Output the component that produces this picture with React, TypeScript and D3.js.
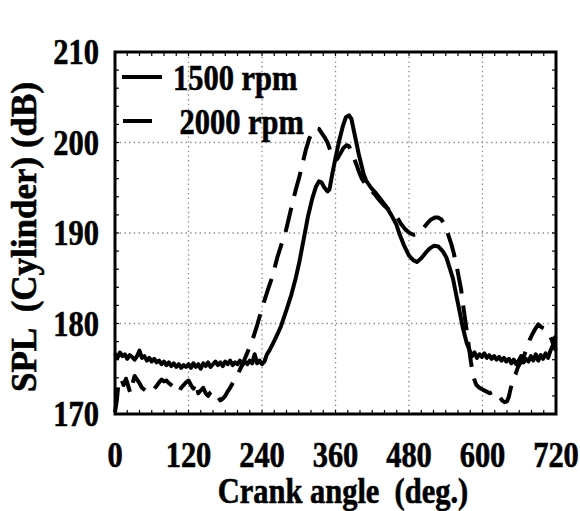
import React from "react";
import * as d3 from "d3";

// ---- data (crank angle in deg, SPL in dB) ----
const solidAngles = [
  0, 4, 8, 12, 16, 20, 24, 28, 32, 36, 40, 44, 48, 52, 56, 60, 64, 68, 72, 76, 80, 84, 88, 92, 96, 100,
  104, 108, 112, 116, 120, 124, 128, 132, 136, 140, 144, 148, 152, 156, 160, 164, 168, 172, 176, 180,
  184, 188, 192, 196, 200, 204, 208, 212, 216, 220, 224, 228, 232, 236, 240, 244, 248, 252,
  258, 263, 271, 280, 288, 295, 301, 308, 315, 322, 328, 333, 337, 342, 347, 350, 355, 360, 366, 372,
  377, 382, 386, 390, 394, 398, 402, 406, 410, 418, 426, 434, 443, 451, 459, 465, 472, 480, 487, 493,
  500, 507, 514, 521, 528, 535, 541, 547, 552, 557, 563, 568, 574, 579,
  583, 587, 591, 595, 599, 603, 607, 611, 615, 619, 623, 627, 631, 635, 639, 643, 647, 651, 655, 659,
  663, 667, 671, 675, 679, 683, 687, 691, 695, 699, 703, 707, 711, 715, 718, 720,
];
const solidValues = [
  176.7, 176.2, 176.8, 176.4, 176.6, 176.1, 176.5, 176.3, 176.0, 176.4, 177.0, 176.2, 176.4, 175.9, 176.2,
  175.8, 176.1, 175.7, 175.9, 175.5, 175.8, 175.4, 175.7, 175.3, 175.6, 175.2, 175.5, 175.1, 175.4, 175.2,
  175.5, 175.1, 175.6, 175.2, 175.5, 175.0, 175.6, 175.3, 175.7, 175.2, 175.5, 175.8, 175.4, 175.7, 175.3,
  175.8, 175.5, 175.9, 175.4, 175.7, 175.5, 175.9, 175.4, 175.8, 175.5, 175.9, 175.6, 176.6, 175.6, 175.9,
  175.5, 175.8, 176.6, 177.0,
  177.8, 178.5, 179.7, 181.5, 183.2, 185.0, 186.8, 189.3, 191.8, 193.8, 195.1, 195.7, 195.6, 195.0, 194.6,
  194.8, 196.6, 198.3, 200.2, 201.8, 202.8, 203.0, 202.6, 201.3, 200.0, 198.7, 197.6, 196.5, 195.8, 195.0,
  194.4, 193.7, 192.9, 192.0, 191.0, 189.8, 188.6, 187.5, 187.0, 186.8, 187.2, 187.8, 188.3, 188.6, 188.5,
  188.0, 187.3, 186.0, 184.9, 183.2, 181.2, 179.5, 177.9, 177.0,
  176.4, 176.8, 176.2, 176.6, 176.3, 176.7, 176.2, 176.5, 176.1, 176.4, 176.0, 176.3, 175.9, 176.2, 175.8,
  176.1, 175.6, 176.0, 175.5, 175.9, 176.4, 175.7, 176.1, 175.8, 176.4, 175.9, 176.6, 175.9, 176.5, 176.1,
  176.7, 176.2, 177.0, 177.6, 178.4, 178.6,
];

const dashedAngles = [
  0, 3, 6, 10, 14, 18, 22, 25, 28, 32, 36, 40, 44, 48, 52, 56, 60, 64, 68, 72, 76, 80, 84, 88, 92, 96,
  100, 104, 108, 112, 116, 120, 124, 128, 132, 136, 140, 144, 148, 152, 156, 160, 164, 168, 172, 176,
  180, 184, 188, 192, 196, 200, 206, 212, 218, 225, 232, 241, 249, 257, 265, 272, 277, 282, 290, 296,
  301, 307, 312, 317, 322, 328, 333, 337, 342, 347, 351, 355, 359, 363, 368, 373, 378, 382, 386, 390,
  394, 398, 403, 410, 418, 425, 432, 440, 447, 454, 460, 467, 474, 481, 488, 495, 502, 509, 516, 522,
  528, 533, 538, 543, 549, 553, 557, 561, 565, 569, 573, 577, 581, 585, 590, 595, 600, 606, 612, 618,
  624, 628, 632, 636, 640, 643, 646, 650, 654, 658, 663, 667, 672, 677, 682, 687, 691, 696, 700, 705,
  709, 713, 717, 720,
];
const dashedValues = [
  170.2, 171.5, 173.6, 173.9, 173.2, 173.9, 173.0, 172.3, 173.2, 174.2, 173.8, 173.4, 172.9, 172.7, 172.5,
  172.3, 172.5, 172.8, 173.1, 173.5, 173.8, 173.6, 173.7, 173.4, 173.2, 173.0, 172.6, 172.4, 172.9, 173.2,
  173.5, 173.7, 173.2, 172.8, 173.5, 172.3, 172.6, 172.9, 172.3, 172.0, 172.4, 172.6, 172.3, 171.9, 171.5,
  171.7, 172.0, 172.5, 172.9, 173.4, 173.9, 174.3, 175.2, 176.1, 177.1, 178.3, 179.8, 181.9, 183.6, 185.2,
  187.3, 188.8, 189.7, 191.1, 193.4, 195.0, 196.2, 197.9, 199.3, 200.4, 201.2, 201.6, 201.5, 201.1, 200.6,
  200.0, 199.2, 198.4, 198.0, 198.2, 198.8, 199.4, 199.7, 199.6, 199.0, 198.3, 197.6, 196.8, 196.0, 195.3,
  194.7, 194.2, 193.6, 193.0, 192.6, 192.2, 191.8, 191.0, 190.4, 190.0, 189.8, 189.9, 190.4, 191.0, 191.5,
  191.7, 191.7, 191.5, 190.9, 190.0, 188.8, 187.8, 186.6, 185.2, 183.8, 181.7, 179.8, 177.8, 175.8, 174.1,
  173.2, 172.9, 172.7, 172.5, 172.3, 172.5, 172.4, 171.9, 171.5, 171.3, 171.4, 171.9, 172.8, 173.9, 174.4,
  175.2, 175.8, 176.3, 177.2, 178.2, 178.9, 179.5, 179.9, 179.6, 179.5, 179.3, 178.8, 178.2, 177.4, 177.0,
];

const xTicks = [0, 120, 240, 360, 480, 600, 720];
const yTicks = [170, 180, 190, 200, 210];
const seriesNames = ["1500 rpm", " 2000 rpm"];
const xTitle = "Crank angle  (deg.)";
const yTitle = "SPL  (Cylinder) (dB)";

const W = 580;
const H = 511;
const L = 115, R = 556, T = 52, B = 414;
const FONT = "'Liberation Serif', 'Times New Roman', serif";
const FS = 35;
const SX = 0.87;

export default function App() {
  const x = d3.scaleLinear().domain([0, 720]).range([L, R]);
  const y = d3.scaleLinear().domain([170, 210]).range([B, T]);

  const line = d3
    .line<[number, number]>()
    .x((d) => x(d[0]))
    .y((d) => y(d[1]))
    .curve(d3.curveLinear);

  const solid = solidAngles.map((a, i) => [a, solidValues[i]] as [number, number]);
  const dashed = dashedAngles.map((a, i) => [a, dashedValues[i]] as [number, number]);

  const minorX = d3.range(0, 721, 20);
  const minorY = d3.range(170, 211, 2);
  const tl = 4;

  const textStyle: React.CSSProperties = {
    fontFamily: FONT,
    fontWeight: "bold",
    fontSize: FS,
    whiteSpace: "pre",
    stroke: "#000",
    strokeWidth: 0.6,
  };

  return (
    <svg
      width={W}
      height={H}
      style={{ position: "absolute", left: 0, top: 0, background: "#fff" }}
    >
      <rect x={0} y={0} width={W} height={H} fill="#fff" />
      {/* grid */}
      <g stroke="#8a8a8a" strokeWidth={1.3} strokeDasharray="1.4,3.3">
        {xTicks.slice(1, -1).map((t) => (
          <line key={"gx" + t} x1={x(t)} x2={x(t)} y1={T} y2={B} />
        ))}
        {yTicks.slice(1, -1).map((t) => (
          <line key={"gy" + t} x1={L} x2={R} y1={y(t)} y2={y(t)} />
        ))}
      </g>
      {/* minor ticks */}
      <g stroke="#000" strokeWidth={1.2}>
        {minorX.map((t) => (
          <g key={"mx" + t}>
            <line x1={x(t)} x2={x(t)} y1={B} y2={B - tl} />
            <line x1={x(t)} x2={x(t)} y1={T} y2={T + tl} />
          </g>
        ))}
        {minorY.map((t) => (
          <g key={"my" + t}>
            <line x1={L} x2={L + tl} y1={y(t)} y2={y(t)} />
            <line x1={R} x2={R - tl} y1={y(t)} y2={y(t)} />
          </g>
        ))}
      </g>
      {/* curves */}
      <path d={line(solid) || ""} fill="none" stroke="#000" strokeWidth={4} strokeLinejoin="round" />
      <path
        d={line(dashed) || ""}
        fill="none"
        stroke="#000"
        strokeWidth={4}
        strokeDasharray="25,12"
        strokeLinejoin="round"
      />
      {/* frame */}
      <rect x={L} y={T} width={R - L} height={B - T} fill="none" stroke="#000" strokeWidth={3} />
      {/* legend */}
      <line x1={122} x2={162} y1={77} y2={77} stroke="#000" strokeWidth={4} />
      <g transform={`translate(173,90) scale(${SX},1)`}>
        <text style={textStyle}>{seriesNames[0]}</text>
      </g>
      <line x1={123} x2={152} y1={121} y2={121} stroke="#000" strokeWidth={4} />
      <g transform={`translate(172,134) scale(${SX},1)`}>
        <text style={textStyle}>{seriesNames[1]}</text>
      </g>
      {/* y tick labels */}
      {yTicks.map((t) => (
        <g key={"yl" + t} transform={`translate(99,${y(t) + 12}) scale(${SX},1)`}>
          <text style={textStyle} textAnchor="end">
            {t}
          </text>
        </g>
      ))}
      {/* x tick labels */}
      {xTicks.map((t) => (
        <g key={"xl" + t} transform={`translate(${x(t)},467) scale(${SX},1)`}>
          <text style={textStyle} textAnchor="middle">
            {t}
          </text>
        </g>
      ))}
      {/* axis titles */}
      <g transform={`translate(343,503) scale(${SX},1)`}>
        <text style={textStyle} textAnchor="middle">
          {xTitle}
        </text>
      </g>
      <g transform={`translate(36,237) rotate(-90)`}>
        <text style={textStyle} textAnchor="middle">
          {yTitle}
        </text>
      </g>
    </svg>
  );
}
